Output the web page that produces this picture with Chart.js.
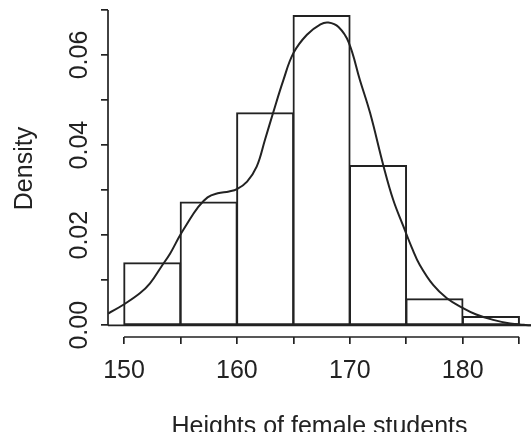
<!DOCTYPE html>
<html>
<head>
<meta charset="utf-8">
<script src="https://cdn.jsdelivr.net/npm/chart.js@4"></script>
<style>
  html, body { margin: 0; padding: 0; background: #fff; overflow: hidden; }
  #wrap { width: 531px; height: 432px; position: relative; }
</style>
</head>
<body>
<div id="wrap"><canvas id="chart"></canvas></div>
<script>
// histogram bins (cm) and their densities
var binStarts = [150, 155, 160, 165, 170, 175, 180];
var binWidth = 5;
var binDensity = [0.0138, 0.0273, 0.0471, 0.0687, 0.0354, 0.0058, 0.0019];

// kernel density curve
var curveX = [148.6, 149.9, 151.4, 152.3, 153.3, 154.1, 154.9, 155.6, 156.5, 157.4, 158.3, 159.3, 160.0,
    160.9, 161.75, 162.5, 163.2, 164.1, 165.0, 166.2, 167.4, 168.1, 169.0, 169.9, 170.9, 171.8, 173.0,
    173.85, 174.74, 175.5, 176.2, 177.4, 178.6, 179.9, 181.2, 182.7, 184.2, 185.4, 186.05];
var curveY = [0.0026, 0.0045, 0.0071, 0.0093, 0.0130, 0.0160, 0.0197, 0.0226, 0.0260, 0.0284, 0.0293, 0.0297, 0.0302,
    0.0319, 0.0352, 0.0413, 0.0471, 0.0543, 0.0604, 0.0645, 0.0668, 0.0672, 0.0662, 0.0628, 0.0544, 0.0471, 0.0352,
    0.0278, 0.0220, 0.0172, 0.0134, 0.0089, 0.0060, 0.0040, 0.0024, 0.0012, 0.0004, 0.0001, 0.0000];

// axis ticks, R style: every tick marked, every other one labelled
var xTicks = [150, 155, 160, 165, 170, 175, 180, 185];
var xTickLabels = ["150", "", "160", "", "170", "", "180", ""];
var yTicks = [0, 0.01, 0.02, 0.03, 0.04, 0.05, 0.06, 0.07];
var yTickLabels = ["0.00", "", "0.02", "", "0.04", "", "0.06", ""];

var ink = "#222222";
var font = { family: "'Liberation Sans', Arial, sans-serif", size: 25 };

var barData = binStarts.map(function (s, i) {
    return { x: s + binWidth / 2, y: binDensity[i] };
});
var curveData = curveX.map(function (x, i) {
    return { x: x, y: curveY[i] };
});

// R draws the axis line only between the first and last tick
var rAxes = {
    id: "rAxes",
    afterDraw: function (chart) {
        var ctx = chart.ctx;
        var xs = chart.scales.x, ys = chart.scales.y, area = chart.chartArea;
        var zero = ys.getPixelForValue(0);
        ctx.save();
        ctx.strokeStyle = ink;
        ctx.lineWidth = 1.7;
        ctx.beginPath();
        ctx.moveTo(xs.getPixelForValue(xTicks[0]), area.bottom);
        ctx.lineTo(xs.getPixelForValue(xTicks[xTicks.length - 1]), area.bottom);
        ctx.moveTo(area.left, ys.getPixelForValue(yTicks[0]));
        ctx.lineTo(area.left, ys.getPixelForValue(yTicks[yTicks.length - 1]));
        ctx.moveTo(area.left, zero);
        ctx.lineTo(area.right, zero);
        ctx.stroke();
        ctx.restore();
    }
};

new Chart(document.getElementById("chart"), {
    type: "bar",
    data: {
        datasets: [
            {
                type: "line",
                data: curveData,
                borderColor: ink,
                borderWidth: 2,
                pointRadius: 0,
                tension: 0.4,
                fill: false,
                order: 0
            },
            {
                type: "bar",
                data: barData,
                backgroundColor: "rgba(0,0,0,0)",
                borderColor: ink,
                // thin border + inflate puts a ~2px outline centred on the bin edges
                borderWidth: 0.4,
                inflateAmount: 0.8,
                borderSkipped: false,
                barPercentage: 1,
                categoryPercentage: 1,
                order: 1
            }
        ]
    },
    options: {
        responsive: true,
        maintainAspectRatio: false,
        animation: false,
        events: [],
        layout: { padding: 0 },
        plugins: {
            legend: { display: false },
            tooltip: { enabled: false }
        },
        scales: {
            x: {
                type: "linear",
                position: "bottom",
                min: 148.58,
                max: 186.05,
                offset: false,
                afterBuildTicks: function (scale) {
                    scale.ticks = xTicks.map(function (v) { return { value: v }; });
                },
                afterFit: function (scale) {
                    scale.height = 95;
                    scale.paddingLeft = 0;
                    scale.paddingRight = 0;
                },
                grid: {
                    offset: false,
                    drawOnChartArea: false,
                    drawTicks: true,
                    tickLength: 7,
                    color: ink,
                    lineWidth: 1.7
                },
                border: { display: false },
                ticks: {
                    autoSkip: false,
                    maxRotation: 0,
                    minRotation: 0,
                    padding: 12,
                    color: ink,
                    font: font,
                    callback: function (v, i) { return xTickLabels[i]; }
                },
                title: {
                    display: true,
                    text: "Heights of female students",
                    color: ink,
                    font: { family: font.family, size: 25, lineHeight: 0.36 },
                    padding: 0
                }
            },
            y: {
                type: "linear",
                position: "left",
                min: -0.0026,
                max: 0.0722,
                afterBuildTicks: function (scale) {
                    scale.ticks = yTicks.map(function (v) { return { value: v }; });
                },
                afterFit: function (scale) {
                    scale.width = 108;
                    scale.paddingTop = 0;
                    scale.paddingBottom = 0;
                },
                grid: {
                    drawOnChartArea: false,
                    drawTicks: true,
                    tickLength: 7,
                    color: ink,
                    lineWidth: 1.7
                },
                border: { display: false },
                ticks: {
                    autoSkip: false,
                    minRotation: 90,
                    maxRotation: 90,
                    crossAlign: "center",
                    padding: -3.5,
                    color: ink,
                    font: font,
                    callback: function (v, i) { return yTickLabels[i]; }
                },
                title: {
                    display: true,
                    text: "Density",
                    color: ink,
                    font: { family: font.family, size: 25, lineHeight: 1 },
                    padding: { top: 13, bottom: 0 }
                }
            }
        }
    },
    plugins: [rAxes]
});
</script>
</body>
</html>
